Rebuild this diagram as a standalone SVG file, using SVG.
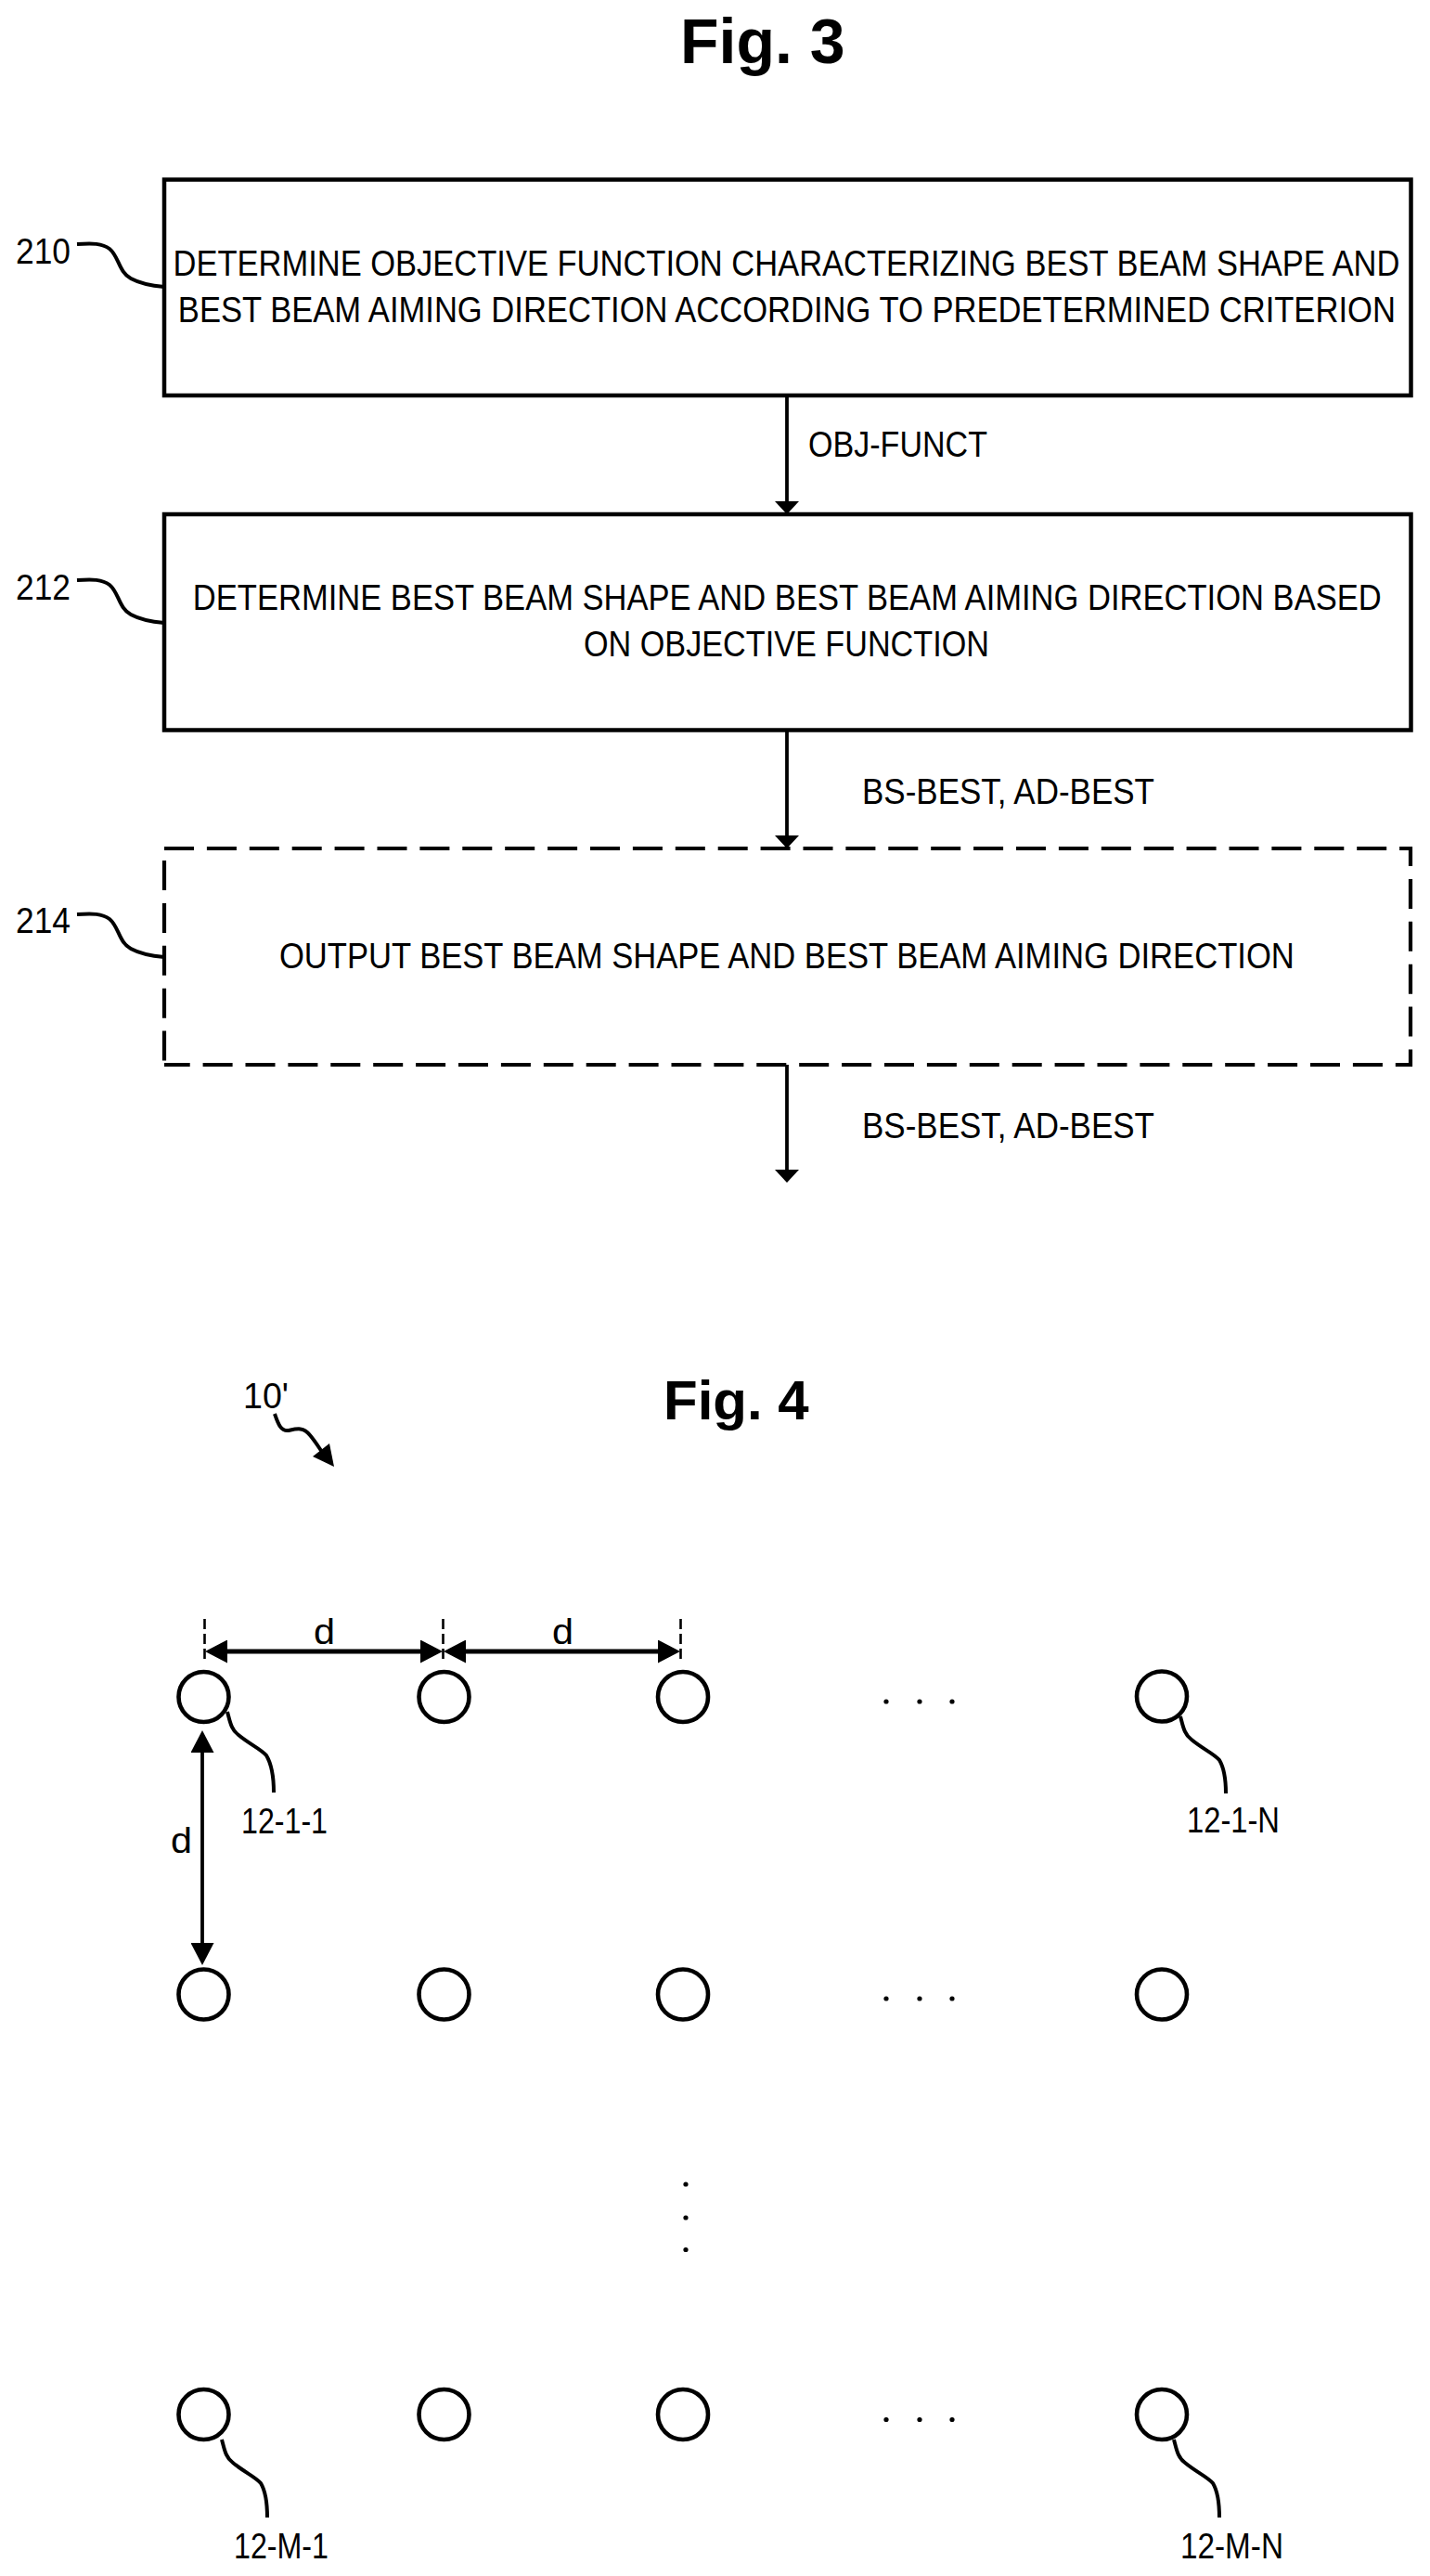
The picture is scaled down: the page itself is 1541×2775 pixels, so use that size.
<svg xmlns="http://www.w3.org/2000/svg" width="1541" height="2775" viewBox="0 0 1541 2775">
<style>
text{font-family:"Liberation Sans",Arial,sans-serif;fill:#000}
.t{font-size:39px}
.h{font-weight:bold}
.box{fill:none;stroke:#000;stroke-width:4.5}
.dash{fill:none;stroke:#000;stroke-width:4.2;stroke-dasharray:32 13.9}
.wire{fill:none;stroke:#000;stroke-width:3.8}
.dim{fill:none;stroke:#000;stroke-width:5}
.lead{fill:none;stroke:#000;stroke-width:4}
.tick{fill:none;stroke:#000;stroke-width:2.6;stroke-dasharray:11 5}
.el{fill:none;stroke:#000;stroke-width:4.6}
.dot{fill:#000}
</style>
<defs>
<marker id="a" markerUnits="userSpaceOnUse" viewBox="0 0 14 26" markerWidth="14" markerHeight="26" refX="2" refY="13" orient="auto"><path d="M0 0L14 13L0 26Z"/></marker>
<marker id="b" markerUnits="userSpaceOnUse" viewBox="0 0 24 25" markerWidth="24" markerHeight="25" refX="2" refY="12.5" orient="auto-start-reverse"><path d="M0 0L24 12.5L0 25Z"/></marker>
</defs>
<rect width="1541" height="2775" fill="#fff"/>
<text id="fig3" class="h" x="733" y="68" font-size="68">Fig. 3</text>
<g id="connectors">
<path class="wire" d="M848 426V542" marker-end="url(#a)"/>
<path class="wire" d="M848 786V902" marker-end="url(#a)"/>
<path class="wire" d="M848 1147V1262" marker-end="url(#a)"/>
<path class="dim" d="M243 1779H455" marker-start="url(#b)" marker-end="url(#b)"/>
<path class="dim" d="M500 1779H711" marker-start="url(#b)" marker-end="url(#b)"/>
<path class="wire" d="M218 1886V2095" marker-start="url(#b)" marker-end="url(#b)"/>
<path class="tick" d="M220.5 1744V1792"/>
<path class="tick" d="M477.5 1744V1792"/>
<path class="tick" d="M733.5 1744V1792"/>
</g>
<g id="labels">
<text class="t" x="871" y="492" textLength="193" lengthAdjust="spacingAndGlyphs">OBJ-FUNCT</text>
<text class="t" x="929" y="866" textLength="315" lengthAdjust="spacingAndGlyphs">BS-BEST, AD-BEST</text>
<text class="t" x="929" y="1226" textLength="315" lengthAdjust="spacingAndGlyphs">BS-BEST, AD-BEST</text>
<text class="t" x="338" y="1771" textLength="23" lengthAdjust="spacingAndGlyphs">d</text>
<text class="t" x="595" y="1771" textLength="23" lengthAdjust="spacingAndGlyphs">d</text>
<text class="t" x="184" y="1996" textLength="23" lengthAdjust="spacingAndGlyphs">d</text>
</g>
<g id="node-210">
<rect class="box" x="177" y="193.5" width="1343.5" height="232.5"/>
<text class="t" transform="scale(.82 1)" x="227.5" y="297" textLength="1612" lengthAdjust="spacingAndGlyphs">DETERMINE OBJECTIVE FUNCTION CHARACTERIZING BEST BEAM SHAPE AND</text>
<text class="t" transform="scale(.82 1)" x="234" y="347" textLength="1600" lengthAdjust="spacingAndGlyphs">BEST BEAM AIMING DIRECTION ACCORDING TO PREDETERMINED CRITERION</text>
<path class="lead" d="M83 263C100 262 110 262 118 268C128 276 128 293 141 300C152 306 165 308 177 309"/>
<text class="t" x="17" y="284" textLength="59" lengthAdjust="spacingAndGlyphs">210</text>
</g>
<g id="node-212">
<rect class="box" x="177" y="554" width="1343.5" height="232.5"/>
<text class="t" transform="scale(.82 1)" x="253.5" y="657" textLength="1562" lengthAdjust="spacingAndGlyphs">DETERMINE BEST BEAM SHAPE AND BEST BEAM AIMING DIRECTION BASED</text>
<text class="t" transform="scale(.82 1)" x="767" y="707" textLength="533" lengthAdjust="spacingAndGlyphs">ON OBJECTIVE FUNCTION</text>
<path class="lead" d="M83 625C100 624 110 624 118 630C128 638 128 655 141 662C152 668 165 670 177 671"/>
<text class="t" x="17" y="646" textLength="59" lengthAdjust="spacingAndGlyphs">212</text>
</g>
<g id="node-214">
<path class="dash" d="M177 914H1522"/>
<path class="dash" d="M177 1147H1522" stroke-dashoffset="4.3"/>
<path class="dash" d="M177 927V1148"/>
<path class="dash" d="M1520 912V1149" stroke-dashoffset="11"/>
<text class="t" transform="scale(.82 1)" x="367" y="1043" textLength="1334" lengthAdjust="spacingAndGlyphs">OUTPUT BEST BEAM SHAPE AND BEST BEAM AIMING DIRECTION</text>
<path class="lead" d="M83 985C100 984 110 984 118 990C128 998 128 1015 141 1022C152 1028 165 1030 177 1031"/>
<text class="t" x="17" y="1005" textLength="59" lengthAdjust="spacingAndGlyphs">214</text>
</g>
<text id="fig4" class="h" x="715" y="1529" font-size="60">Fig. 4</text>
<g id="array-10">
<text class="t" x="262" y="1517" textLength="49" lengthAdjust="spacingAndGlyphs">10'</text>
<path class="lead" d="M296 1523C300 1535 303 1542 311 1541C320 1539 327 1537 334 1546C340 1553 344 1560 349 1567"/>
<path d="M360 1580L337 1569L355 1555Z"/>
</g>
<g id="element-12-1-1">
<circle class="el" cx="219.5" cy="1828" r="27"/>
<path class="lead" d="M245 1844C248 1855 249 1863 257 1869C269 1879 281 1884 287 1891C293 1901 295 1915 295 1931"/>
<text class="t" x="260" y="1975" textLength="93" lengthAdjust="spacingAndGlyphs">12-1-1</text>
</g>
<g id="element-12-1-2"><circle class="el" cx="478.5" cy="1828" r="27"/></g>
<g id="element-12-1-3"><circle class="el" cx="736" cy="1828" r="27"/></g>
<g id="element-12-1-N">
<circle class="el" cx="1252" cy="1827.5" r="27"/>
<path class="lead" d="M1272 1849C1275 1860 1276 1868 1284 1874C1296 1884 1308 1889 1314 1896C1320 1906 1321 1920 1321 1932"/>
<text class="t" x="1279" y="1974" textLength="100" lengthAdjust="spacingAndGlyphs">12-1-N</text>
</g>
<g id="row-2">
<circle class="el" cx="219.5" cy="2148.5" r="27"/>
<circle class="el" cx="478.5" cy="2148.5" r="27"/>
<circle class="el" cx="736" cy="2148.5" r="27"/>
<circle class="el" cx="1252" cy="2148.5" r="27"/>
</g>
<g id="element-12-M-1">
<circle class="el" cx="219.5" cy="2601" r="27"/>
<path class="lead" d="M239 2628C242 2639 243 2647 251 2653C263 2663 275 2668 281 2675C287 2685 288 2699 288 2712"/>
<text class="t" x="252" y="2756" textLength="102" lengthAdjust="spacingAndGlyphs">12-M-1</text>
</g>
<g id="element-12-M-2"><circle class="el" cx="478.5" cy="2601" r="27"/></g>
<g id="element-12-M-3"><circle class="el" cx="736" cy="2601" r="27"/></g>
<g id="element-12-M-N">
<circle class="el" cx="1252" cy="2601" r="27"/>
<path class="lead" d="M1265 2628C1268 2639 1269 2647 1277 2653C1289 2663 1301 2668 1307 2675C1313 2685 1314 2699 1314 2712"/>
<text class="t" x="1272" y="2756" textLength="111" lengthAdjust="spacingAndGlyphs">12-M-N</text>
</g>
<g id="ellipses">
<circle class="dot" cx="955" cy="1833" r="2.6"/><circle class="dot" cx="991" cy="1833" r="2.6"/><circle class="dot" cx="1026" cy="1833" r="2.6"/>
<circle class="dot" cx="955" cy="2153" r="2.6"/><circle class="dot" cx="991" cy="2153" r="2.6"/><circle class="dot" cx="1026" cy="2153" r="2.6"/>
<circle class="dot" cx="955" cy="2606.5" r="2.6"/><circle class="dot" cx="991" cy="2606.5" r="2.6"/><circle class="dot" cx="1026" cy="2606.5" r="2.6"/>
<circle class="dot" cx="739" cy="2353" r="2.6"/><circle class="dot" cx="739" cy="2389" r="2.6"/><circle class="dot" cx="739" cy="2423.5" r="2.6"/>
</g>
</svg>
